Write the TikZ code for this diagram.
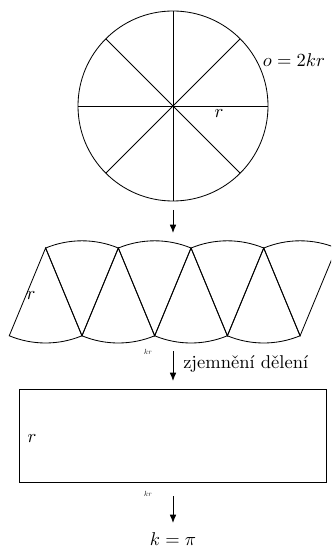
\documentclass[tikz,border=0pt]{standalone}
\usetikzlibrary{arrows.meta}
\begin{document}
\begin{tikzpicture}[x=0.54pt,y=-0.54pt, line width=0.45pt,
  arr/.style={-{Latex[length=4.5pt,width=3.6pt]}},
  lab/.style={inner sep=1pt},
  tinylab/.style={scale=0.4,inner sep=0pt}]
\useasboundingbox (0,0) rectangle (331,547);
% circle
\coordinate (c) at (173,106);
\draw (c) circle[radius=51.3pt];
\foreach \a in {0,45,...,315} \draw (c) -- ++(\a:51.3pt);
\node[lab] (o) at (294,60) {$o=2kr$};
\node[lab] (r1) at (219,114) {$r$};
% arrow 1
\coordinate (a1s) at (173,210);
\coordinate (a1e) at (173,233);
\draw[arr] (a1s) -- (a1e);
% sectors strip
\begin{scope}
\clip (0,0) rectangle (331,547);
\foreach \i in {0,...,3} {
  \pgfmathsetmacro\t{45.6+72.7*\i}
  \pgfmathsetmacro\b{82+72.7*\i}
  \draw (\t,248) -- ++(-112.5:51.3pt) arc[start angle=-112.5,end angle=-67.5,radius=51.3pt] -- cycle;
  \draw (\b,335.8) -- ++(112.5:51.3pt) arc[start angle=112.5,end angle=67.5,radius=51.3pt] -- cycle;
}
\end{scope}
\node[lab] (r2) at (31,296) {$r$};
\node[tinylab] (kr1) at (148,352) {$kr$};
% arrow 2
\coordinate (a2s) at (173,351);
\coordinate (a2e) at (173,381);
\draw[arr] (a2s) -- (a2e);
\node[lab,anchor=west] (zj) at (181,364) {zjemnění dělení};
% rectangle
\draw (19,389) rectangle (326,482);
\node[lab] (r3) at (32,439) {$r$};
\node[tinylab] (kr2) at (148,494) {$kr$};
% arrow 3
\coordinate (a3s) at (173,496);
\coordinate (a3e) at (173,523);
\draw[arr] (a3s) -- (a3e);
\node[inner sep=0pt,anchor=base] (k) at (173,545) {$k=\pi$};
\end{tikzpicture}
\end{document}
